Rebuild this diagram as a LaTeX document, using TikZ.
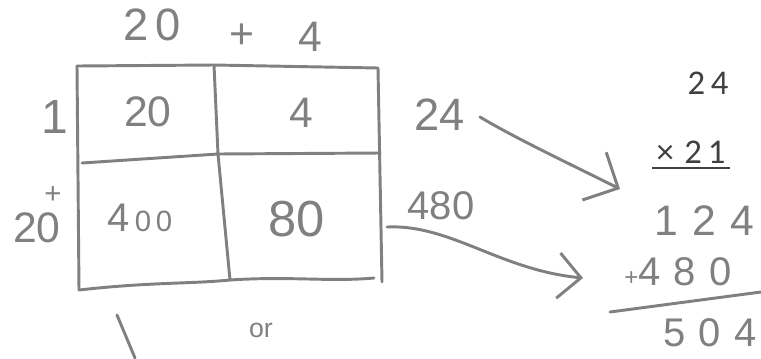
\documentclass[tikz,border=0pt]{standalone}
\usepackage{fontspec}
\setmainfont{Liberation Sans}
\newfontfamily\printfont{Carlito}
\usetikzlibrary{arrows.meta}
\definecolor{pen}{HTML}{808080}
\definecolor{ink}{HTML}{404040}
\newcommand{\fs}[1]{\fontsize{#1}{#1}\selectfont}
\tikzset{
  hand/.style={text=pen, font=\fs{32}, inner sep=0pt},
  printed/.style={text=ink, font=\printfont\fs{26}, inner sep=0pt},
  stroke/.style={draw=pen, line width=2.2pt, line cap=round, line join=round},
  barb/.style={stroke, -{Straight Barb[length=#1,width=40pt,line width=2.2pt]}},
  barb/.default=19pt
}
\begin{document}
\begin{tikzpicture}[x=0.75pt,y=-0.75pt]
\useasboundingbox (0,0) rectangle (761,358);
% header
\node[hand, font=\fs{34}] (h20) at (152,25) {2\,0};
\node[hand] (hplus) at (242,36) {+};
\node[hand] (h4) at (310,37) {4};
% grid
\coordinate (tl) at (77,66);
\coordinate (tm) at (214,65);
\coordinate (tr) at (378,68);
\coordinate (ml) at (82,163);
\coordinate (mm) at (218,154);
\coordinate (mr) at (380,153);
\coordinate (bl) at (79,290);
\coordinate (bm) at (230,280);
\coordinate (br) at (374,278);
\draw[stroke] (tl) -- (tm) -- (tr);
\draw[stroke] (tl) -- (bl);
\draw[stroke] (tr) -- (382,282);
\draw[stroke] (tm) -- (mm) -- (bm);
\draw[stroke] (ml) -- (mm) -- (mr);
\draw[stroke] (bl) .. controls (150,282) and (190,284) .. (bm) .. controls (290,276) and (330,282) .. (br);
% cells
\node[hand] (c20) at (148,112) {20};
\node[hand] (c4) at (301,113) {4};
\node[hand] (c400) at (140,218) {{\fs{30}4}{\fs{22}\,0\,0}};
\node[hand, font=\fs{38}] (c80) at (297,219) {80};
% left labels
\node[hand, font=\fs{36}] (l1) at (55,117) {1};
\node[hand, font=\fs{22}] (lplus) at (53,195) {+};
\node[hand] (l20) at (37,228) {20};
% below
\coordinate (s1) at (117,315);
\coordinate (s2) at (135,358);
\draw[stroke] (s1) -- (s2);
\node[hand, font=\fs{20}] (or) at (261,330) {or};
% partial products
\node[hand, font=\fs{34}] (p24) at (440,115) {24};
\node[hand, font=\fs{30}] (p480) at (441,206) {480};
% printed problem
\node[printed] (t24) at (708,83) {2\,4};
\node[printed] (t21) at (691,152) {×\hspace{8pt}2\,1};
\coordinate (u1) at (652,168);
\coordinate (u2) at (730,168);
\draw[ink, line width=1.6pt] (u1) -- (u2);
% handwritten sum
\node[hand] (r124) at (704,221) {1\,\,2\,\,4};
\node[hand, font=\fs{30}] (r480) at (678,272) {{\fs{18}+}4\,\,8\,\,0};
\coordinate (sl1) at (610,312);
\coordinate (sl2) at (761,292);
\draw[stroke] (sl1) -- (sl2);
\node[hand, font=\fs{30}] (r504) at (710,333) {5\,\,0\,\,4};
% arrows
\coordinate (a0) at (480,117);
\coordinate (a1) at (620,189);
\coordinate (b0) at (387,227);
\coordinate (a2) at (583,278);
\draw[barb=20pt] (a0) .. controls (515,138) and (570,164) .. (a1);
\draw[stroke, -{Straight Barb[length=17pt,width=34pt,line width=2.2pt]}] (b0) .. controls (450,224) and (500,270) .. (a2);
\end{tikzpicture}
\end{document}
